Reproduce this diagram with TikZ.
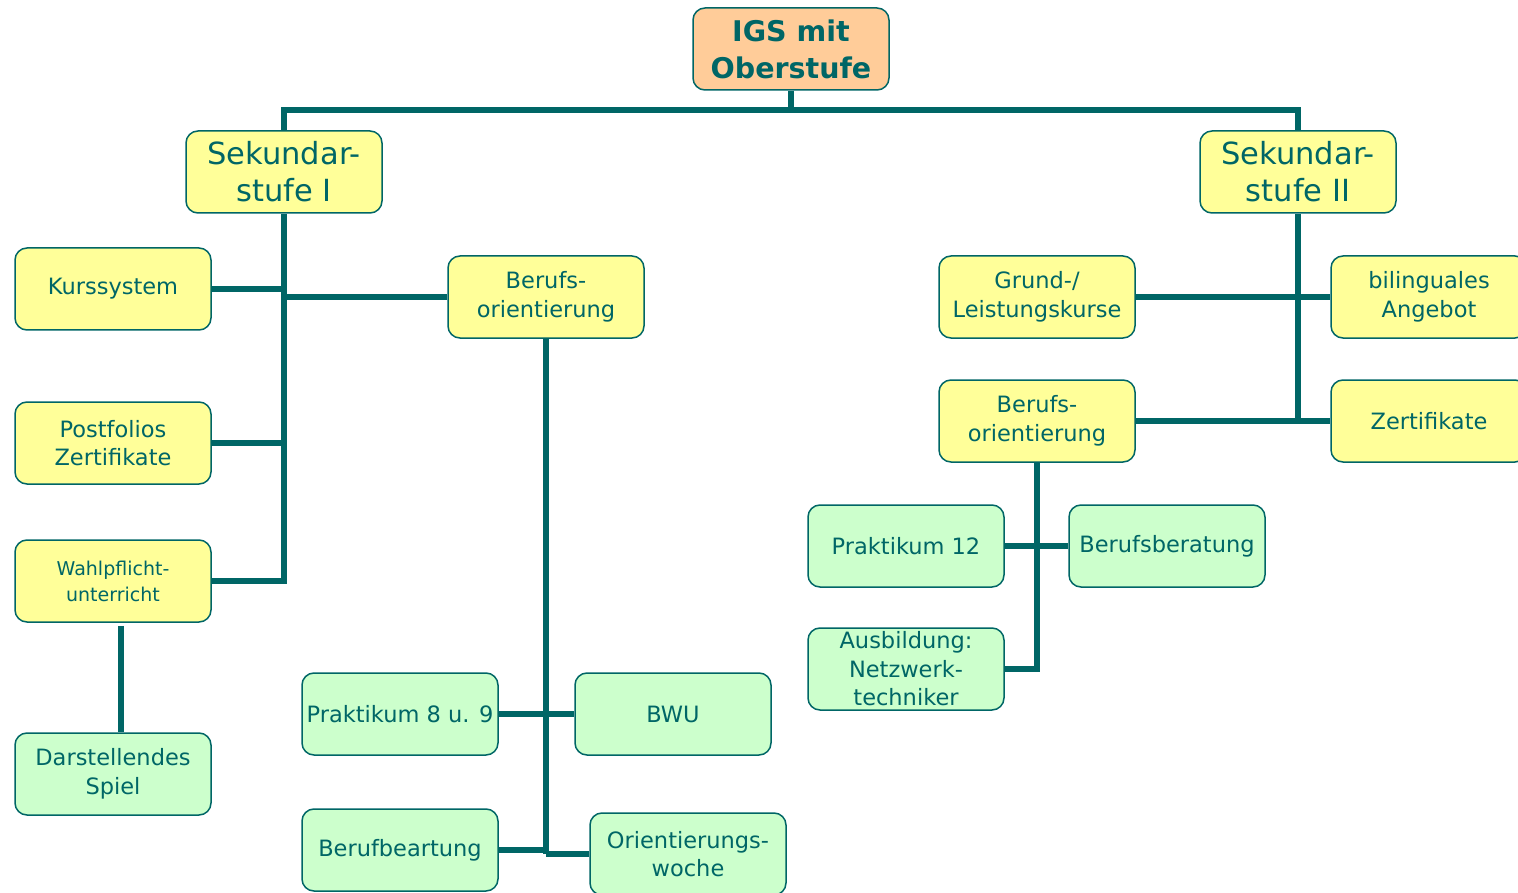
\documentclass[tikz,border=0pt]{standalone}
\usepackage{fontspec}
\setmainfont{DejaVu Sans}
\definecolor{tealc}{HTML}{006666}
\definecolor{yel}{HTML}{FFFF99}
\definecolor{grn}{HTML}{CCFFCC}
\definecolor{ora}{HTML}{FFCC99}
\tikzset{
  box/.style={draw=tealc, line width=1.5pt, rounded corners=12pt, minimum width=196pt, minimum height=82pt, align=center, text=tealc, inner sep=2pt, font=\fontsize{22.5}{28.5}\selectfont},
  ybox/.style={box, fill=yel},
  gbox/.style={box, fill=grn},
  obox/.style={box, fill=ora, font=\fontsize{28.5}{37}\selectfont\bfseries},
  bigtext/.style={font=\fontsize{30.5}{37}\selectfont},
  smalltext/.style={font=\fontsize{19}{26}\selectfont},
  conn/.style={draw=tealc, line width=5.5pt},
}
\begin{document}
\begin{tikzpicture}[x=1pt,y=-1pt]
\useasboundingbox (0,0) rectangle (1518,893);
\clip (0,0) rectangle (1518,893);
% nodes
\node[obox] (top) at (791,49) {IGS mit\\Oberstufe};
\node[ybox, bigtext] (s1) at (284,172) {Sekundar-\\stufe I};
\node[ybox, bigtext] (s2) at (1298,172) {Sekundar-\\stufe II};
\node[ybox] (kurs) at (113,289) {Kurssystem};
\node[ybox] (bo1) at (546,297) {Berufs-\\orientierung};
\node[ybox] (post) at (113,443) {Postfolios\\Zertifikate};
\node[ybox, smalltext] (wahl) at (113,581) {Wahlpflicht-\\unterricht};
\node[gbox] (dar) at (113,774) {Darstellendes\\Spiel};
\node[gbox] (p89) at (400,714) {Praktikum 8 u. 9};
\node[gbox] (bwu) at (673,714) {BWU};
\node[gbox] (berufb) at (400,850) {Berufbeartung};
\node[gbox] (orient) at (688,854) {Orientierungs-\\woche};
\node[ybox] (glk) at (1037,297) {Grund-/\\Leistungskurse};
\node[ybox] (bil) at (1429,297) {bilinguales\\Angebot};
\node[ybox] (bo2) at (1037,421) {Berufs-\\orientierung};
\node[ybox] (zert) at (1429,421) {Zertifikate};
\node[gbox] (p12) at (906,546) {Praktikum 12};
\node[gbox] (bb) at (1167,546) {Berufsberatung};
\node[gbox] (ausb) at (906,669) {Ausbildung:\\Netzwerk-\\techniker};
% connectors
\coordinate (hub) at (791,110);
\draw[conn] (top.south) -- (hub);
\draw[conn] (s1.north) |- (hub) -| (s2.north);
\draw[conn] (s1.south) |- (wahl.east);
\draw[conn] (kurs.east) -- (kurs.east -| s1.south);
\draw[conn] (post.east) -- (post.east -| s1.south);
\draw[conn] (bo1.west) -- (bo1.west -| s1.south);
\draw[conn] ([xshift=8pt,yshift=-3pt]wahl.south) -- ([xshift=8pt]dar.north);
\draw[conn] (bo1.south) -- (bo1.south |- orient.west);
\draw[conn] (p89.east) -- (bwu.west);
\draw[conn] (berufb.east) -- (berufb.east -| bo1.south);
\draw[conn] (orient.west) -- (orient.west -| bo1.south);
\draw[conn] (s2.south) -- (s2.south |- bo2.east);
\draw[conn] (glk.east) -- (bil.west);
\draw[conn] (bo2.east) -- (zert.west);
\draw[conn] (bo2.south) |- (ausb.east);
\draw[conn] (p12.east) -- (bb.west);
\end{tikzpicture}
\end{document}
